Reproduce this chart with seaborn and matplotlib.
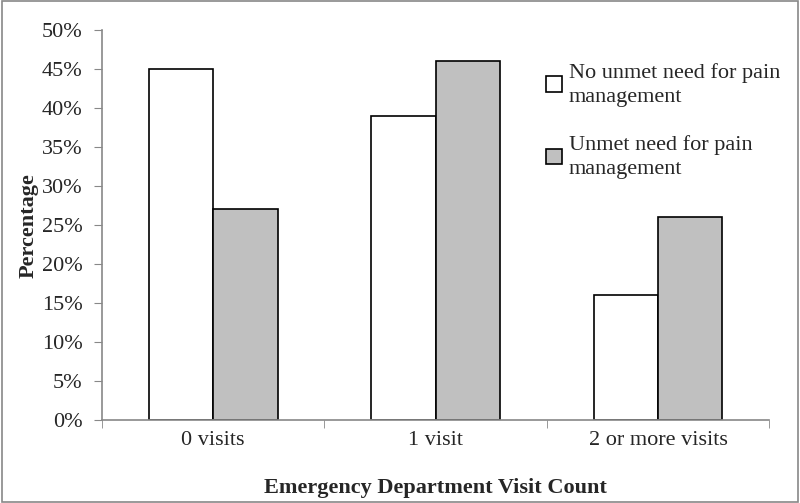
import matplotlib
matplotlib.use("Agg")
import matplotlib.pyplot as plt
import seaborn as sns
import pandas as pd
from matplotlib.ticker import PercentFormatter, FixedLocator

categories = ["0 visits", "1 visit", "2 or more visits"]
series = ["No unmet need for pain\nmanagement", "Unmet need for pain\nmanagement"]
no_unmet = [45, 39, 16]
unmet = [27, 46, 26]
colors = ["#ffffff", "#c0c0c0"]

df = pd.DataFrame({
    "category": categories * 2,
    "group": [series[0]] * 3 + [series[1]] * 3,
    "value": no_unmet + unmet,
})

sns.set_style("white")
plt.rcParams["font.family"] = ["Liberation Serif", "DejaVu Serif"]

fig = plt.figure(figsize=(8, 5.03), dpi=100)
ax = fig.add_axes([0.1275, 0.165, 0.834, 0.775])

sns.barplot(data=df, x="category", y="value", hue="group", palette=colors,
            edgecolor="black", linewidth=1.2, width=0.58, ax=ax)

ax.set_ylim(0, 50)
ax.set_xlim(-0.5, 2.5)
ax.yaxis.set_major_locator(FixedLocator(range(0, 51, 5)))
ax.yaxis.set_major_formatter(PercentFormatter(decimals=0))
ax.tick_params(axis="y", labelsize=16, length=6, pad=8, color="#888888", direction="out", left=True)
ax.tick_params(axis="x", which="major", labelsize=16, length=0, pad=8)
ax.set_xticks([-0.5, 0.5, 1.5, 2.5], minor=True)
ax.tick_params(axis="x", which="minor", length=6, color="#888888", direction="out", bottom=True)

for side in ["top", "right"]:
    ax.spines[side].set_visible(False)
for side in ["left", "bottom"]:
    ax.spines[side].set_color("#888888")
    ax.spines[side].set_linewidth(1.2)

ax.set_xlabel("Emergency Department Visit Count", fontsize=16, fontweight="bold", labelpad=20)
ax.set_ylabel("Percentage", fontsize=16, fontweight="bold", labelpad=2)

leg = ax.legend(loc="upper left", bbox_to_anchor=(0.658, 0.915), bbox_transform=fig.transFigure,
                frameon=False, fontsize=16, handlelength=0.7, handleheight=0.7,
                handletextpad=0.3, labelspacing=1.3, title=None)
for t in leg.get_texts():
    t.set_linespacing(1.35)

fig.patches.append(plt.Rectangle((0.002, 0.002), 0.996, 0.996, transform=fig.transFigure,
                                 fill=False, edgecolor="#888888", linewidth=1.2))

fig.savefig("out.png", dpi=100)
